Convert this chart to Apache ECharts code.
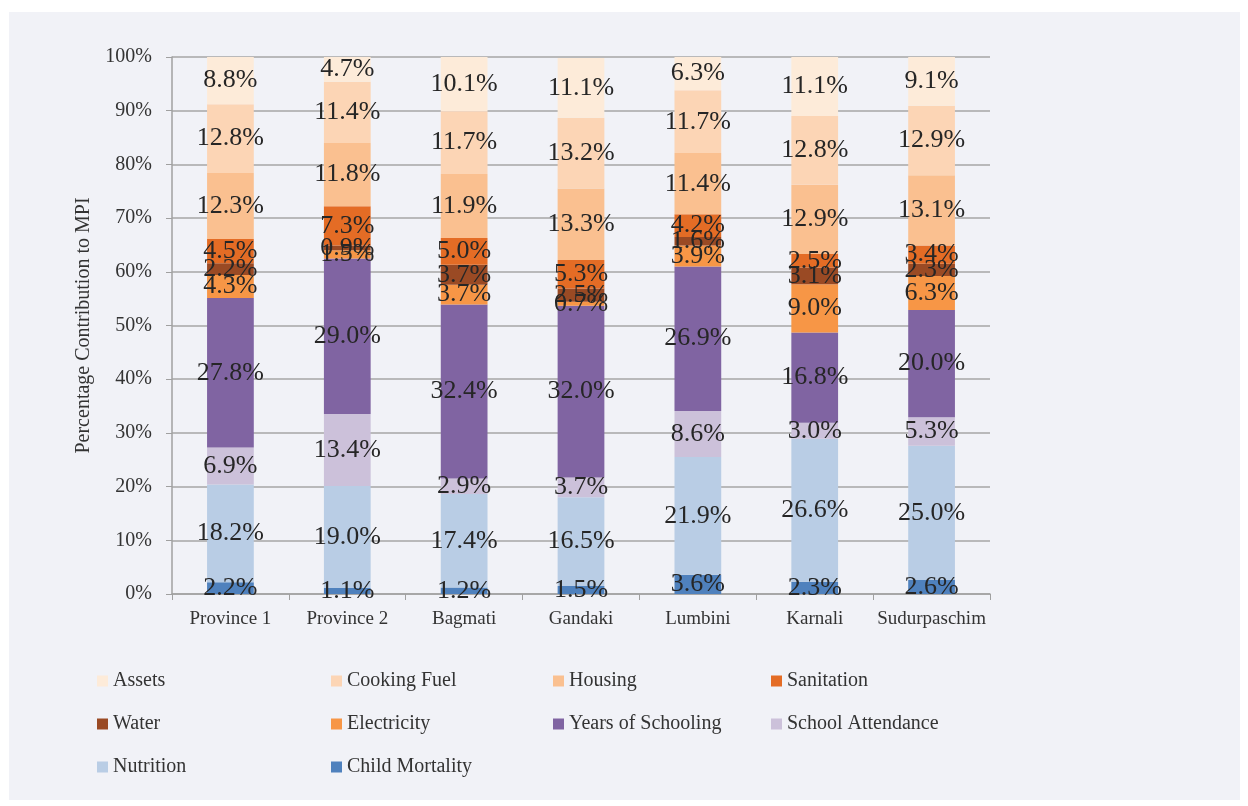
<!DOCTYPE html>
<html>

<head>
  <meta charset="UTF-8">
  <title>MPI contribution by province</title>
  <style>
    html, body { margin: 0; padding: 0; background: #ffffff; }
    #main { position: absolute; left: 9px; top: 12px; width: 1231px; height: 788px; background: #f1f2f7; }
  </style>
</head>

<body>
  <div id="main"></div>
  <script src="https://cdn.jsdelivr.net/npm/echarts@6.0.0/dist/echarts.min.js"></script>
  <script>
    // provinces on the x axis
    const provinces = ['Province 1', 'Province 2', 'Bagmati', 'Gandaki', 'Lumbini', 'Karnali', 'Sudurpaschim'];

    // indicator shares (%), bottom of the stack first
    const childMortality = [2.2, 1.1, 1.2, 1.5, 3.6, 2.3, 2.6];
    const nutrition = [18.2, 19.0, 17.4, 16.5, 21.9, 26.6, 25.0];
    const schoolAttendance = [6.9, 13.4, 2.9, 3.7, 8.6, 3.0, 5.3];
    const yearsOfSchooling = [27.8, 29.0, 32.4, 32.0, 26.9, 16.8, 20.0];
    const electricity = [4.3, 1.5, 3.7, 0.7, 3.9, 9.0, 6.3];
    const water = [2.2, 0.9, 3.7, 2.5, 1.6, 3.1, 2.3];
    const sanitation = [4.5, 7.3, 5.0, 5.3, 4.2, 2.5, 3.4];
    const housing = [12.3, 11.8, 11.9, 13.3, 11.4, 12.9, 13.1];
    const cookingFuel = [12.8, 11.4, 11.7, 13.2, 11.7, 12.8, 12.9];
    const assets = [8.8, 4.7, 10.1, 11.1, 6.3, 11.1, 9.1];

    const yTicks = [0, 10, 20, 30, 40, 50, 60, 70, 80, 90, 100];

    const FONT = '"Liberation Serif", "DejaVu Serif", serif';

    const stack = [
      ['Child Mortality', childMortality, '#4f81bd'],
      ['Nutrition', nutrition, '#b9cde5'],
      ['School Attendance', schoolAttendance, '#ccc1da'],
      ['Years of Schooling', yearsOfSchooling, '#8064a2'],
      ['Electricity', electricity, '#f79646'],
      ['Water', water, '#9a4a24'],
      ['Sanitation', sanitation, '#e46c25'],
      ['Housing', housing, '#fac090'],
      ['Cooking Fuel', cookingFuel, '#fcd5b5'],
      ['Assets', assets, '#fdebd9']
    ];

    // legend grid: 4 columns, reading order Assets -> Child Mortality
    const legendOrder = ['Assets', 'Cooking Fuel', 'Housing', 'Sanitation', 'Water', 'Electricity',
      'Years of Schooling', 'School Attendance', 'Nutrition', 'Child Mortality'];
    const colX = [83, 317, 539, 757];
    const rowY = [654, 697, 740];

    const legends = legendOrder.map((name, i) => ({
      data: [name],
      left: colX[i % 4],
      top: rowY[Math.floor(i / 4)],
      itemWidth: 11,
      itemHeight: 11,
      itemGap: 4,
      icon: 'rect',
      textStyle: { fontFamily: FONT, fontSize: 20, color: '#333' }
    }));

    const chart = echarts.init(document.getElementById('main'));
    chart.setOption({
      animation: false,
      legend: legends,
      grid: { left: 163, right: 250, top: 45, bottom: 206 },
      xAxis: {
        type: 'category',
        data: provinces,
        axisLine: { lineStyle: { color: '#a0a0a0', width: 1.5 } },
        axisTick: { show: true, length: 6, lineStyle: { color: '#a0a0a0' } },
        axisLabel: { interval: 0, fontFamily: FONT, fontSize: 19, color: '#333', margin: 16 }
      },
      yAxis: {
        type: 'value',
        min: yTicks[0],
        max: yTicks[yTicks.length - 1],
        interval: 10,
        name: 'Percentage Contribution to MPI',
        nameLocation: 'middle',
        nameGap: 78,
        nameTextStyle: { fontFamily: FONT, fontSize: 20, color: '#333' },
        axisLine: { show: true, lineStyle: { color: '#a0a0a0', width: 1.5 } },
        axisTick: { show: true, length: 6, lineStyle: { color: '#a0a0a0' } },
        splitLine: { lineStyle: { color: '#a6a6a6', width: 1.5 } },
        axisLabel: { fontFamily: FONT, fontSize: 20, color: '#333', margin: 20, formatter: '{value}%' }
      },
      series: stack.map(([name, values, color]) => ({
        name,
        type: 'bar',
        stack: 'mpi',
        barWidth: '40%',
        data: values,
        itemStyle: { color },
        label: {
          show: true,
          position: 'inside',
          fontFamily: FONT,
          fontSize: 26,
          color: '#262626',
          formatter: p => p.value.toFixed(1) + '%'
        }
      }))
    });
  </script>
</body>

</html>
